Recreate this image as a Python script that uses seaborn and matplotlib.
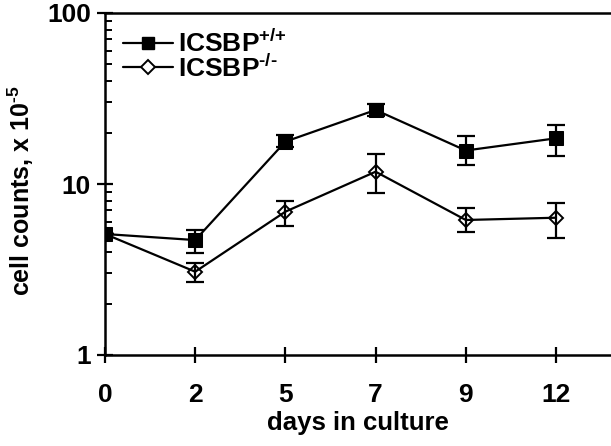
import numpy as np
import pandas as pd
import matplotlib
matplotlib.use("Agg")
import matplotlib.pyplot as plt
import seaborn as sns
from matplotlib.lines import Line2D
from matplotlib.ticker import LogLocator, FixedLocator, FixedFormatter, NullFormatter

days = ["0", "2", "5", "7", "9", "12"]
wt_mean = [5.1, 4.7, 17.7, 27.1, 15.7, 18.5]
wt_low = [5.1, 3.93, 16.5, 25.0, 12.9, 14.6]
wt_high = [5.1, 5.38, 19.3, 29.5, 19.1, 22.1]
ko_mean = [5.1, 3.07, 6.89, 11.8, 6.16, 6.35]
ko_low = [5.1, 2.66, 5.70, 8.9, 5.22, 4.85]
ko_high = [5.1, 3.44, 7.99, 15.0, 7.21, 7.78]
y_ticks = [1, 10, 100]
y_ticklabels = ["1", "10", "100"]

sns.set_theme(style="ticks")
plt.rcParams["font.family"] = ["Liberation Sans", "DejaVu Sans"]
plt.rcParams["font.weight"] = "bold"
plt.rcParams["text.color"] = "black"
plt.rcParams["axes.labelcolor"] = "black"
plt.rcParams["xtick.color"] = "black"
plt.rcParams["ytick.color"] = "black"
plt.rcParams["mathtext.fontset"] = "custom"
plt.rcParams["mathtext.rm"] = "Liberation Sans:bold"
plt.rcParams["mathtext.default"] = "regular"

fig = plt.figure(figsize=(6.11, 4.46), dpi=100)
ax = fig.add_axes([105 / 611, 1 - 355 / 446, 1 - 105 / 611, (355 - 13) / 446])

df = pd.DataFrame({
    "day": days * 2,
    "count": wt_mean + ko_mean,
    "genotype": ["wt"] * len(days) + ["ko"] * len(days),
})

sns.lineplot(data=df[df.genotype == "wt"], x="day", y="count", sort=False, ax=ax,
             color="black", lw=1.6, marker="s", markersize=9.5, markerfacecolor="black",
             markeredgecolor="black", zorder=3)
sns.lineplot(data=df[df.genotype == "ko"], x="day", y="count", sort=False, ax=ax,
             color="black", lw=1.6, marker="D", markersize=7.5, markerfacecolor="none",
             markeredgecolor="black", markeredgewidth=1.4, zorder=3)

xpos = np.arange(len(days))
for m, lo, hi in [(wt_mean, wt_low, wt_high), (ko_mean, ko_low, ko_high)]:
    m = np.array(m); lo = np.array(lo); hi = np.array(hi)
    ax.errorbar(xpos, m, yerr=[m - lo, hi - m], fmt="none", ecolor="black",
                elinewidth=1.6, capsize=6.5, capthick=1.6, zorder=2)

ax.set_yscale("log")
ax.set_ylim(1, 100)
ax.set_xlim(0.0, (611 - 105) / 90.2)
ax.yaxis.set_major_locator(FixedLocator(y_ticks))
ax.yaxis.set_major_formatter(FixedFormatter(y_ticklabels))
ax.yaxis.set_minor_locator(LogLocator(base=10, subs=np.arange(2, 10)))
ax.yaxis.set_minor_formatter(NullFormatter())
ax.set_xticks(xpos)
ax.set_xticklabels(days)

for s in ["left", "bottom", "top"]:
    ax.spines[s].set_linewidth(1.8)
    ax.spines[s].set_color("black")
ax.spines["right"].set_visible(False)

ax.tick_params(axis="x", direction="inout", length=12, width=1.6, labelsize=19, pad=14)
ax.tick_params(axis="y", which="major", direction="inout", length=12, width=1.6, labelsize=19, pad=4)
ax.tick_params(axis="y", which="minor", direction="in", length=5, width=1.4)
for lab in ax.get_xticklabels() + ax.get_yticklabels():
    lab.set_fontweight("bold")

ax.set_xlabel("days in culture", fontsize=18.5, fontweight="bold", labelpad=3)
ax.set_ylabel("cell counts, x 10$^{\u20105}$", fontsize=18, fontweight="bold")
ax.yaxis.set_label_coords(-0.136, 0.48)

handles = [
    Line2D([], [], color="black", lw=1.6, marker="s", markersize=9, markerfacecolor="black"),
    Line2D([], [], color="black", lw=1.6, marker="D", markersize=7, markerfacecolor="white",
           markeredgewidth=1.4),
]
leg = ax.legend(handles, ["ICSBP$^{{+}/{+}}$", "ICSBP$^{\u2010/\u2010}$"], loc="upper left",
                bbox_to_anchor=(0.0356, 0.95), frameon=False, fontsize=19, handlelength=1.9,
                handletextpad=0.2, labelspacing=-0.1, borderaxespad=0.0, borderpad=0.0)
for t in leg.get_texts():
    t.set_fontweight("bold")

fig.savefig("out.png", dpi=100)
